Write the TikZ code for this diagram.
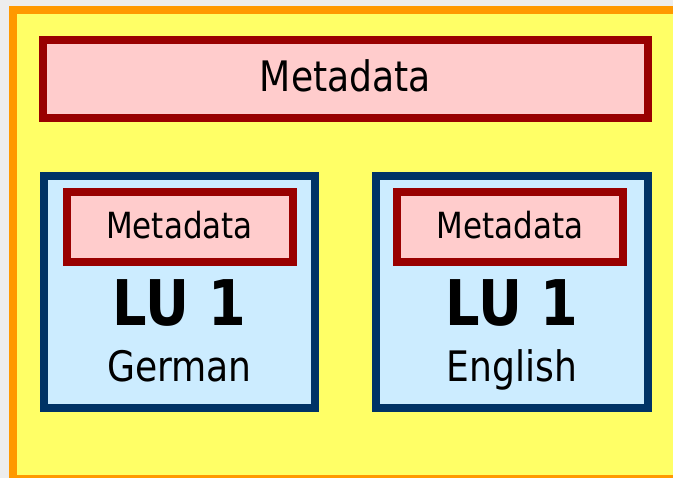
\documentclass[tikz,border=0pt]{standalone}
\usepackage{fontspec}
\setmainfont{DejaVu Sans}[FakeStretch=0.86]
\usepackage{tikz}

\definecolor{frameorange}{HTML}{FF9900}
\definecolor{frameyellow}{HTML}{FFFF66}
\definecolor{metared}{HTML}{990000}
\definecolor{metapink}{HTML}{FFCCCC}
\definecolor{lunavy}{HTML}{003366}
\definecolor{lublue}{HTML}{CCECFF}

\tikzset{
  metabox/.style={draw=metared, fill=metapink, line width=8pt, rectangle, inner sep=0pt},
  lubox/.style={draw=lunavy, fill=lublue, line width=8pt, rectangle, inner sep=0pt},
  lbl/.style={inner sep=0pt, anchor=base, text=black}
}

\begin{document}
\begin{tikzpicture}[x=1pt,y=-1pt]
        \useasboundingbox (0,0) rectangle (673,478);
        \clip (0,0) rectangle (673,478);
        \fill[black!7] (0,0) rectangle (673,478);
        
        % outer frame, runs off the right and bottom edge
        \draw[draw=frameorange, fill=frameyellow, line width=8pt] (13,10) rectangle (690,479);
        
        \node[metabox, minimum width=605pt, minimum height=78pt] (meta) at (345.5,79) {};
        \node[lbl, font=\fontsize{42}{50}\selectfont] (metatxt) at (345.5,92) {Metadata};
        
        % the two units
        \node[lubox, minimum width=271pt, minimum height=232pt] (de) at (179.5,292) {};
        \node[lubox, minimum width=272pt, minimum height=232pt] (en) at (512,292) {};
        
        \node[metabox, minimum width=226pt, minimum height=70pt] (demeta) at (180,227) {};
        \node[metabox, minimum width=226pt, minimum height=70pt] (enmeta) at (510,227) {};
        \node[lbl, font=\fontsize{36}{42}\selectfont] (demetatxt) at (179.5,239) {Metadata};
        \node[lbl, font=\fontsize{36}{42}\selectfont] (enmetatxt) at (510,239) {Metadata};
        
        \node[lbl, font=\fontsize{63}{70}\selectfont\bfseries] (delu) at (179.5,326) {LU 1};
        \node[lbl, font=\fontsize{63}{70}\selectfont\bfseries] (enlu) at (512,326) {LU 1};
        \node[lbl, font=\fontsize{42}{50}\selectfont] (delang) at (179.5,382) {German};
        \node[lbl, font=\fontsize{42}{50}\selectfont] (enlang) at (512,382) {English};
    \end{tikzpicture}
\end{document}
